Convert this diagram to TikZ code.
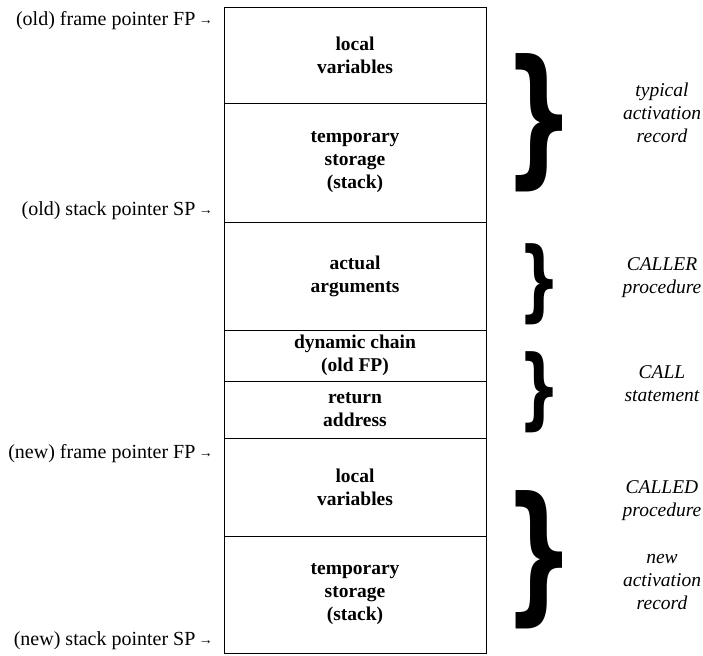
\documentclass[tikz,border=0pt]{standalone}
\usepackage{fontspec}
\setmainfont{Liberation Serif}
\newfontfamily\bracefont{DejaVu Sans}
\usetikzlibrary{positioning}

\tikzset{
  cell/.style={draw, minimum width=262pt, inner sep=0pt, outer sep=0pt, align=center,
    font=\fontsize{19.5}{23}\selectfont\bfseries},
  ptr/.style={anchor=east, inner sep=0pt, font=\fontsize{20}{23}\selectfont},
  role/.style={align=center, inner sep=0pt, font=\fontsize{19.5}{23}\selectfont\itshape},
  bigbrace/.style={inner sep=0pt, font=\bracefont\bfseries\fontsize{150}{150}\selectfont},
  smallbrace/.style={inner sep=0pt, font=\bracefont\bfseries\fontsize{88}{88}\selectfont}
}
\newcommand{\ptrarrow}{\,\raisebox{1.5pt}{\fontsize{14}{14}\selectfont →}}
\newcommand{\narrowbrace}{\scalebox{0.67}[1]{\}}}

\begin{document}
\begin{tikzpicture}[x=1pt, y=-1pt]
    \useasboundingbox (0,0) rectangle (703,655);

    % The stack, top to bottom
    \node[cell, minimum height=96, anchor=north west] (lv1) at (224,7) {local\\variables};
    \node[cell, minimum height=119, below=0pt of lv1] (ts1) {temporary\\storage\\(stack)};
    \node[cell, minimum height=108, below=0pt of ts1] (args) {actual\\arguments};
    \node[cell, minimum height=51, below=0pt of args] (dyn) {dynamic chain\\(old FP)};
    \node[cell, minimum height=57, below=0pt of dyn] (ret) {return\\address};
    \node[cell, minimum height=98, below=0pt of ret] (lv2) {local\\variables};
    \node[cell, minimum height=117, below=0pt of lv2] (ts2) {temporary\\storage\\(stack)};

    % Pointers on the left
    \node[ptr] (oldfp) at (213,21) {(old) frame pointer FP\ptrarrow};  % old FP
    \node[ptr] (oldsp) at (213,211) {(old) stack pointer SP\ptrarrow};  % old SP
    \node[ptr] (newfp) at (213,454) {(new) frame pointer FP\ptrarrow};  % new FP
    \node[ptr] (newsp) at (213,641) {(new) stack pointer SP\ptrarrow};  % new SP

    % Braces on the right
    \node[bigbrace] (br1) at (539,123) {\narrowbrace};
    \node[smallbrace] (br2) at (539,284) {\narrowbrace};
    \node[smallbrace] (br3) at (539,392) {\narrowbrace};
    \node[bigbrace] (br4) at (539,560) {\narrowbrace};

    % What each brace stands for
    \node[role] (typical) at (662,113) {typical\\activation\\record};
    \node[role] (caller) at (662,278) {CALLER\\procedure};
    \node[role] (call) at (662,384) {CALL\\statement};
    \node[role] (called) at (662,501) {CALLED\\procedure};
    \node[role] (newrec) at (662,582) {new\\activation\\record};
\end{tikzpicture}
\end{document}
